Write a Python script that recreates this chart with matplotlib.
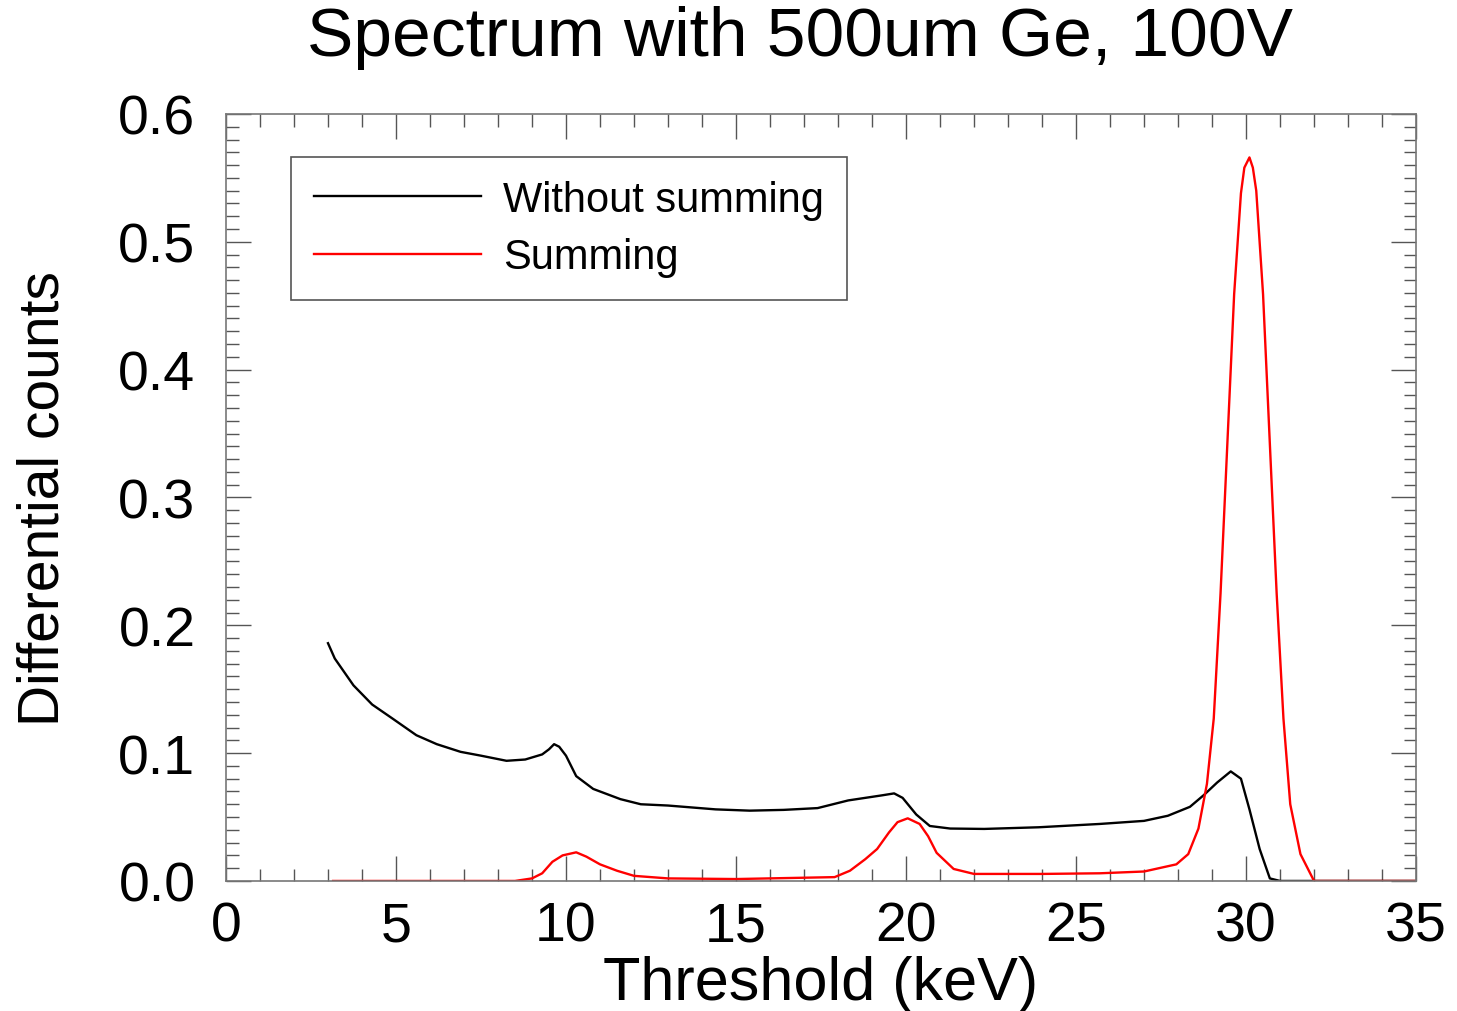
import matplotlib.pyplot as plt
from matplotlib.ticker import MultipleLocator, FormatStrFormatter

plt.rcParams['font.family'] = ['Liberation Sans', 'DejaVu Sans']

# without summing (black)
black_x = [3.0, 3.2, 3.75, 4.3, 4.9, 5.6, 6.2, 6.9, 7.5, 8.25, 8.8, 9.3, 9.5, 9.65,
           9.8, 10.0, 10.3, 10.8, 11.6, 12.2, 13.0, 14.4, 15.4, 16.4, 17.4, 18.3,
           19.3, 19.65, 19.9, 20.3, 20.7, 21.3, 22.3, 23.9, 25.7, 27.0, 27.7, 28.35,
           28.75, 29.15, 29.55, 29.85, 30.1, 30.4, 30.7, 31.0, 35.0]
black_y = [0.186, 0.174, 0.153, 0.138, 0.127, 0.114, 0.107, 0.101, 0.098, 0.094,
           0.095, 0.099, 0.103, 0.107, 0.105, 0.098, 0.082, 0.072, 0.064, 0.060,
           0.059, 0.056, 0.055, 0.0556, 0.057, 0.063, 0.067, 0.0685, 0.065, 0.052,
           0.043, 0.041, 0.0407, 0.042, 0.0446, 0.047, 0.051, 0.058, 0.067, 0.077,
           0.0857, 0.080, 0.056, 0.025, 0.002, 0.0, 0.0]

# summing (red)
red_x = [3.15, 8.5, 9.0, 9.3, 9.6, 9.9, 10.3, 10.6, 11.0, 11.5, 12.0, 13.0, 15.0,
         17.9, 18.35, 18.8, 19.15, 19.5, 19.75, 20.05, 20.4, 20.65, 20.9, 21.4,
         22.0, 24.0, 25.7, 27.0, 27.95, 28.3, 28.6, 28.85, 29.05, 29.25, 29.45,
         29.65, 29.85, 29.95, 30.1, 30.2, 30.3, 30.5, 30.7, 30.9, 31.1, 31.3,
         31.6, 32.0, 35.0]
red_y = [0.0, 0.0, 0.002, 0.006, 0.015, 0.020, 0.0224, 0.019, 0.013, 0.008, 0.004,
         0.002, 0.0015, 0.003, 0.008, 0.017, 0.025, 0.038, 0.046, 0.049, 0.0446,
         0.035, 0.022, 0.0094, 0.0055, 0.0055, 0.006, 0.0074, 0.013, 0.021, 0.041,
         0.076, 0.127, 0.225, 0.342, 0.459, 0.538, 0.558, 0.566, 0.558, 0.54, 0.459,
         0.342, 0.225, 0.127, 0.060, 0.021, 0.0, 0.0]

fig = plt.figure(figsize=(14.57, 10.12), dpi=100)
ax = fig.add_axes([0.1551, 0.1285, 0.8168, 0.7579])

ax.plot(black_x, black_y, color='black', lw=1.7, label='Without summing')
ax.plot(red_x, red_y, color='#ff0000', lw=1.7, label='Summing')

ax.set_xlim(0, 35)
ax.set_ylim(0, 0.6)
ax.xaxis.set_major_locator(MultipleLocator(5))
ax.xaxis.set_minor_locator(MultipleLocator(1))
ax.yaxis.set_major_locator(MultipleLocator(0.1))
ax.yaxis.set_minor_locator(MultipleLocator(0.01))
ax.yaxis.set_major_formatter(FormatStrFormatter('%.1f'))

ax.tick_params(which='both', direction='in', top=True, right=True, color='#555555', width=1)
ax.tick_params(which='major', length=18, labelsize=40)
ax.tick_params(which='minor', length=9)
ax.tick_params(axis='x', pad=14)
ax.tick_params(axis='y', pad=22)
for s in ax.spines.values():
    s.set_color('#777777')
    s.set_linewidth(1.2)

ax.set_xlabel('Threshold (keV)', fontsize=44, labelpad=2)
ax.set_ylabel('Differential counts', fontsize=41, labelpad=34)
fig.text(800 / 1457, 1 - 38 / 1012, 'Spectrum with 500um Ge, 100V', fontsize=50,
         ha='center', va='center')

leg = ax.legend(loc='upper left', bbox_to_anchor=(0.0546, 0.944), borderaxespad=0,
                fontsize=30, handlelength=4.0, handletextpad=0.55, borderpad=0.55,
                labelspacing=0.42, fancybox=False, framealpha=1)
leg.get_frame().set_edgecolor('#555555')
leg.get_frame().set_linewidth(1.2)

fig.savefig('out.png', dpi=100)
